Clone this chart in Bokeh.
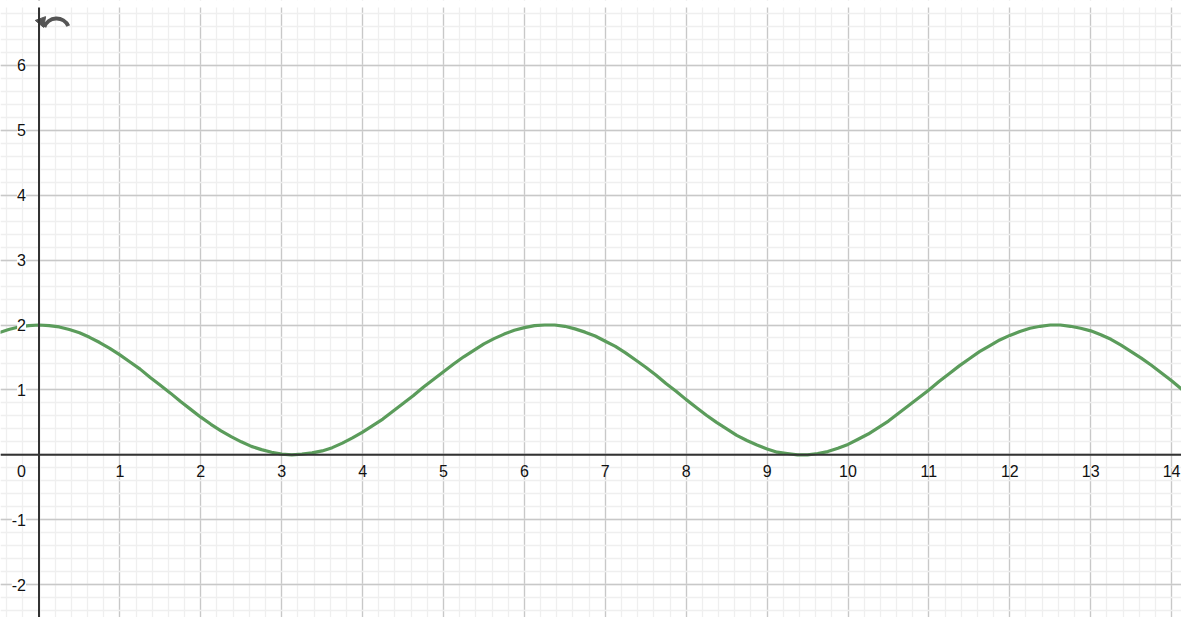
from bokeh.plotting import figure
from bokeh.models import Grid, SingleIntervalTicker, Span, LabelSet, ColumnDataSource, Range1d, BoxAnnotation
from bokeh.embed import file_html
from bokeh.resources import INLINE
from bokeh.core.properties import value
import math

x_vals = [i * 0.125 for i in range(-4, 115)]
y_vals = [1.88, 1.93, 1.97, 1.99, 2.00, 1.99, 1.97, 1.93, 1.88, 1.81, 1.73, 1.64,
          1.54, 1.43, 1.32, 1.19, 1.07, 0.95, 0.82, 0.70, 0.58, 0.47, 0.37, 0.28,
          0.20, 0.13, 0.08, 0.04, 0.01, 0.00, 0.01, 0.03, 0.06, 0.11, 0.18, 0.26,
          0.35, 0.45, 0.55, 0.67, 0.79, 0.91, 1.04, 1.16, 1.28, 1.40, 1.51, 1.61,
          1.71, 1.79, 1.86, 1.92, 1.96, 1.99, 2.00, 2.00, 1.98, 1.94, 1.89, 1.83,
          1.75, 1.67, 1.57, 1.46, 1.35, 1.23, 1.10, 0.98, 0.85, 0.73, 0.61, 0.50,
          0.40, 0.30, 0.22, 0.15, 0.09, 0.04, 0.02, 0.00, 0.00, 0.02, 0.05, 0.10,
          0.16, 0.24, 0.32, 0.42, 0.52, 0.64, 0.76, 0.88, 1.00, 1.13, 1.25, 1.37,
          1.48, 1.59, 1.68, 1.77, 1.84, 1.90, 1.95, 1.98, 2.00, 2.00, 1.98, 1.95,
          1.91, 1.85, 1.78, 1.69, 1.59, 1.49, 1.38, 1.26, 1.14, 1.01, 0.89]
x_tick_labels = ["1", "2", "3", "4", "5", "6", "7", "8", "9", "10", "11", "12", "13", "14"]
x_tick_values = [1, 2, 3, 4, 5, 6, 7, 8, 9, 10, 11, 12, 13, 14]
y_tick_labels = ["-2", "-1", "1", "2", "3", "4", "5", "6"]
y_tick_values = [-2, -1, 1, 2, 3, 4, 5, 6]

# ---- layout (pixel geometry of the reference) ----
W, H = 1181, 617
SX, SY = 80.9, 64.9          # px per unit
X0_PAGE, Y0_PAGE = 38.5, 454.3
MARGIN = 0
x_start = (MARGIN - X0_PAGE) / SX
x_end = (MARGIN + W - X0_PAGE) / SX
y_end = (Y0_PAGE - MARGIN) / SY
y_start = (Y0_PAGE - (MARGIN + H)) / SY

p = figure(width=W, height=H, output_backend="svg", toolbar_location=None,
           x_axis_type=None, y_axis_type=None,
           x_range=Range1d(x_start, x_end), y_range=Range1d(y_start, y_end),
           min_border=0, background_fill_color="white", border_fill_color="white")
p.outline_line_color = None

gx = Grid(dimension=0, ticker=SingleIntervalTicker(interval=1, num_minor_ticks=5),
          grid_line_color="#c8c8c8", grid_line_width=1.3,
          minor_grid_line_color="#efefef", minor_grid_line_width=1.3)
gy = Grid(dimension=1, ticker=SingleIntervalTicker(interval=1, num_minor_ticks=5),
          grid_line_color="#c8c8c8", grid_line_width=1.3,
          minor_grid_line_color="#efefef", minor_grid_line_width=1.3)
p.add_layout(gx)
p.add_layout(gy)

p.add_layout(Span(location=0, dimension="height", line_color="#333333", line_width=2))
p.add_layout(Span(location=0, dimension="width", line_color="#333333", line_width=2))

# white band across the top edge (above the graphics view)
p.add_layout(BoxAnnotation(top=y_end, bottom=(Y0_PAGE - 7) / SY,
                           fill_color="white", fill_alpha=1.0, line_color=None))

p.line(x_vals, y_vals, line_color="#5b9c5b", line_width=3.2)

font = value("Liberation Sans")
# x tick labels
xs = ColumnDataSource(dict(x=x_tick_values, y=[-16.5 / SY] * len(x_tick_values), t=x_tick_labels))
p.add_layout(LabelSet(x="x", y="y", text="t", source=xs, text_align="center",
                      text_baseline="middle", text_font=font, text_font_size="16px",
                      text_color="#111111"))
zs = ColumnDataSource(dict(x=[-17.5 / SX], y=[-16.5 / SY], t=["0"]))
p.add_layout(LabelSet(x="x", y="y", text="t", source=zs, text_align="center",
                      text_baseline="middle", text_font=font, text_font_size="16px",
                      text_color="#111111"))
# y tick labels
ys = ColumnDataSource(dict(x=[-13 / SX] * len(y_tick_values), y=y_tick_values, t=y_tick_labels))
p.add_layout(LabelSet(x="x", y="y", text="t", source=ys, text_align="right",
                      text_baseline="middle", text_font=font, text_font_size="16px",
                      text_color="#111111", background_fill_color="white"))

# undo icon (decoration)
p.arc(x=[(56 - X0_PAGE) / SX], y=[(Y0_PAGE - 31) / SY], radius=13, radius_units="screen",
      start_angle=math.radians(25), end_angle=math.radians(160),
      line_color="#555555", line_width=4)
p.scatter(x=[(41 - X0_PAGE) / SX], y=[(Y0_PAGE - 21) / SY], marker="triangle", size=11,
          angle=math.radians(200), fill_color="#555555", line_color="#555555")

open("out.html", "w").write(file_html(p, INLINE))
